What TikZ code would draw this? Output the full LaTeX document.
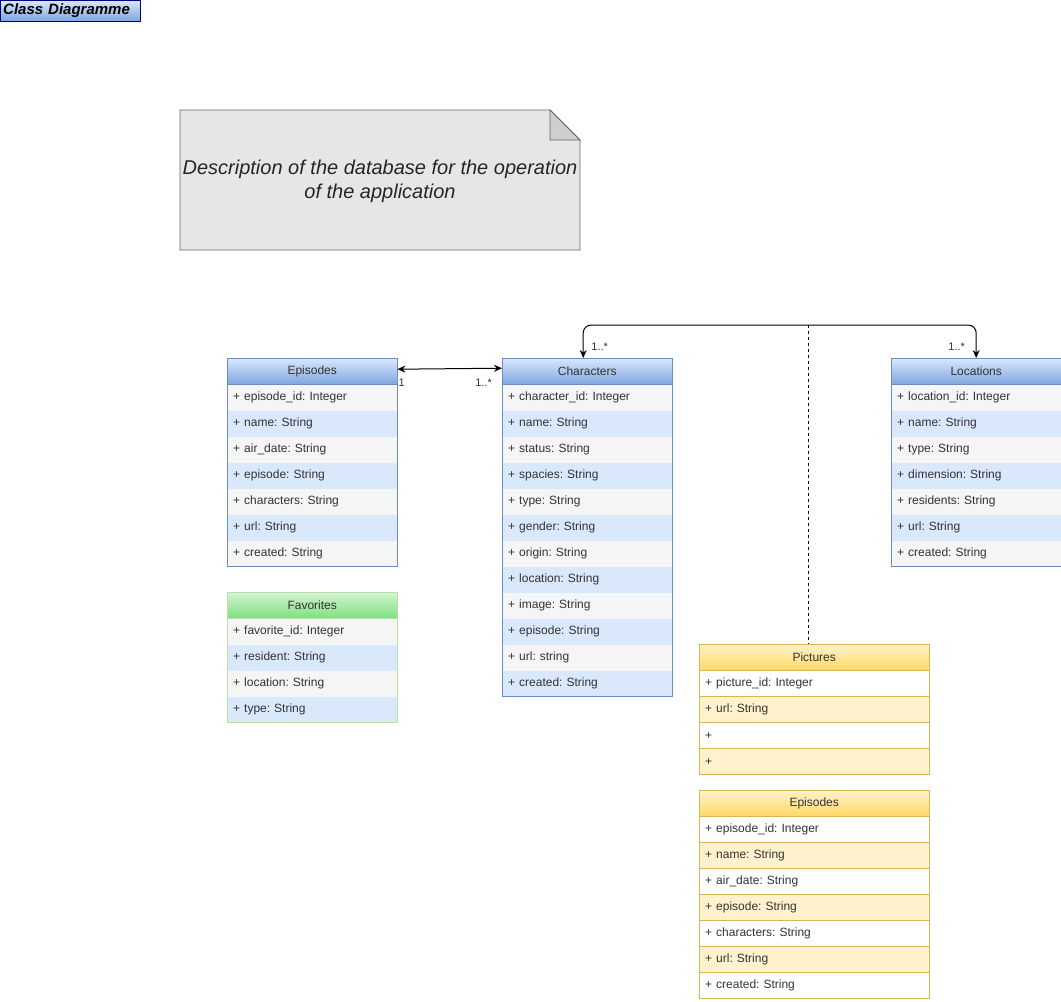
\documentclass[tikz,border=0pt]{standalone}
\usepackage{fontspec}
\setmainfont{Liberation Sans}
\usepackage{xcolor}
\usetikzlibrary{positioning, arrows.meta, calc}
\frenchspacing
\definecolor{blueTop}{HTML}{DAE8FC}
\definecolor{blueBot}{HTML}{7EA6E0}
\definecolor{blueLine}{HTML}{6C8EBF}
\definecolor{rowGrey}{HTML}{F5F5F5}
\definecolor{textGrey}{HTML}{333333}
\definecolor{greenTop}{HTML}{D4F4D4}
\definecolor{greenBot}{HTML}{7FE07F}
\definecolor{greenLine}{HTML}{B9E0A5}
\definecolor{yellowTop}{HTML}{FFF2CC}
\definecolor{yellowBot}{HTML}{FFD966}
\definecolor{yellowLine}{HTML}{D6B656}
\definecolor{noteFill}{HTML}{E6E6E6}
\definecolor{noteLine}{HTML}{666666}
\definecolor{titleLine}{HTML}{000080}
\tikzset{
    >={Stealth[length=8pt, width=7pt]}, % filled arrow heads
    head/.style={rectangle, anchor=north west, minimum width=170pt, minimum height=26pt,
        inner sep=0pt, text=textGrey, font=\fontsize{12}{14}\selectfont},
    bluehead/.style={head, top color=blueTop, bottom color=blueBot, draw=blueLine},
    greenhead/.style={head, top color=greenTop, bottom color=greenBot, draw=greenLine},
    yellowhead/.style={head, minimum width=230pt, top color=yellowTop, bottom color=yellowBot, draw=yellowLine},
    row/.style={rectangle, anchor=north west, minimum height=26pt, inner xsep=6pt, inner ysep=0pt,
        text width=158pt, align=left, text=textGrey, font=\fontsize{12}{14}\selectfont},
    yrow/.style={row, text width=218pt, draw=yellowLine},
    mult/.style={inner sep=1pt, text=textGrey, font=\fontsize{11}{13}\selectfont},
}
\tikzstyle{link} = [line width=1pt, <->]
\begin{document}
\begin{tikzpicture}[x=1pt, y=-1pt]
    \useasboundingbox (0,0) rectangle (1061,1002);

    % title
    \node[anchor=north west, minimum width=140pt, minimum height=21pt, inner xsep=3pt, inner ysep=0pt,
        text width=134pt, align=left, top color=blueTop, bottom color=blueBot, draw=titleLine,
        font=\fontsize{15}{17}\selectfont\bfseries\itshape] (title) at (0,0) {\raisebox{-2pt}{Class Diagramme}};

    % note
    \draw[noteLine, fill=noteFill, line width=0.8pt] (180,110) -- (550,110) -- (580,140) -- (580,250) -- (180,250) -- cycle;
    \draw[noteLine, fill=noteFill!90!black, line width=0.8pt] (550,110) -- (550,140) -- (580,140) -- cycle;
    \node[align=center, font=\fontsize{20}{24}\selectfont\itshape, text=black!85] (note) at (380,181)
        {Description of the database for the operation\\of the application};

    % Episodes (blue)
    \node[bluehead] (epi) at (227,358) {Episodes};
    \foreach \f [count=\i] in {+ episode\_id: Integer, + name: String, + air\_date: String, + episode: String,
            + characters: String, + url: String, + created: String}{
        \ifodd\i \def\rowfill{rowGrey}\else \def\rowfill{blueTop}\fi
        \node[row, fill=\rowfill] (epi-\i) at ([yshift={-26*(\i-1)}]epi.south west) {\f};
    }
    \draw[blueLine, line width=0.8pt] (epi.north west) rectangle (epi-7.south east);

    % Characters
    \node[bluehead] (chr) at (502,358) {Characters};
    \foreach \f [count=\i] in {+ character\_id: Integer, + name: String, + status: String, + spacies: String,
            + type: String, + gender: String, + origin: String, + location: String, + image: String,
            + episode: String, + url: string, + created: String}{
        \ifodd\i \def\rowfill{rowGrey}\else \def\rowfill{blueTop}\fi
        \node[row, fill=\rowfill] (chr-\i) at ([yshift={-26*(\i-1)}]chr.south west) {\f};
    }
    \draw[blueLine, line width=0.8pt] (chr.north west) rectangle (chr-12.south east);

    % Locations
    \node[bluehead] (loc) at (891,358) {Locations};
    \foreach \f [count=\i] in {+ location\_id: Integer, + name: String, + type: String, + dimension: String,
            + residents: String, + url: String, + created: String}{
        \ifodd\i \def\rowfill{rowGrey}\else \def\rowfill{blueTop}\fi
        \node[row, fill=\rowfill] (loc-\i) at ([yshift={-26*(\i-1)}]loc.south west) {\f};
    }
    \draw[blueLine, line width=0.8pt] (loc.north west) rectangle (loc-7.south east);

    % Favorites
    \node[greenhead] (fav) at (227,592) {Favorites};
    \foreach \f [count=\i] in {+ favorite\_id: Integer, + resident: String, + location: String, + type: String}{
        \ifodd\i \def\rowfill{rowGrey}\else \def\rowfill{blueTop}\fi
        \node[row, fill=\rowfill] (fav-\i) at ([yshift={-26*(\i-1)}]fav.south west) {\f};
    }
    \draw[greenLine, line width=0.8pt] (fav.north west) rectangle (fav-4.south east);

    % Pictures
    \node[yellowhead] (pic) at (699,644) {Pictures};
    \foreach \f [count=\i] in {+ picture\_id: Integer, + url: String, +, +}{
        \ifodd\i \def\rowfill{white}\else \def\rowfill{yellowTop}\fi
        \node[yrow, fill=\rowfill] (pic-\i) at ([yshift={-26*(\i-1)}]pic.south west) {\f};
    }

    % Episodes (yellow)
    \node[yellowhead] (eps) at (699,790) {Episodes};
    \foreach \f [count=\i] in {+ episode\_id: Integer, + name: String, + air\_date: String, + episode: String,
            + characters: String, + url: String, + created: String}{
        \ifodd\i \def\rowfill{white}\else \def\rowfill{yellowTop}\fi
        \node[yrow, fill=\rowfill] (eps-\i) at ([yshift={-26*(\i-1)}]eps.south west) {\f};
    }

    % links
    \coordinate (hub) at (808,325);
    \draw[link] ([yshift=2pt]epi.east) -- ([yshift=3pt]chr.west);
    \node[mult, anchor=west] (m1) at ([yshift=-12pt]epi.east) {1};
    \node[mult, anchor=east] (m2) at ([xshift=-9pt, yshift=-12pt]chr.west) {1..*};
    \draw[link, rounded corners=8pt] ([xshift=-4pt]chr.north) |- (hub) -| (loc.north);
    \node[mult, anchor=west] (m3) at ([xshift=3pt, yshift=11pt]chr.north) {1..*};
    \node[mult, anchor=east] (m4) at ([xshift=-10pt, yshift=11pt]loc.north) {1..*};
    \draw[line width=0.8pt, dash pattern=on 3pt off 3pt] (hub) -- (hub |- pic.north);
\end{tikzpicture}
\end{document}
